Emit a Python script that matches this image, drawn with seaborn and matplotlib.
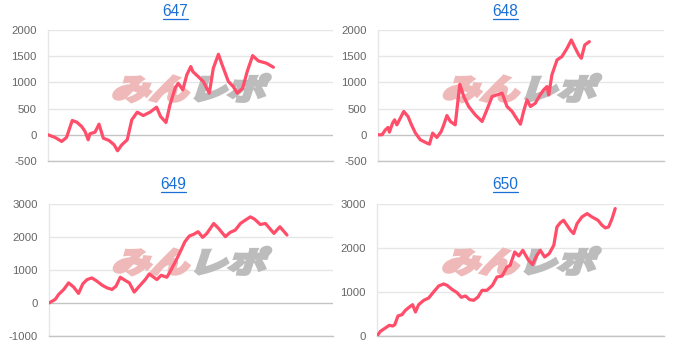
import matplotlib
matplotlib.use("Agg")
import matplotlib.pyplot as plt
import seaborn as sns
import pandas as pd
from matplotlib.textpath import TextPath
from matplotlib.patches import PathPatch
from matplotlib.font_manager import FontProperties
from matplotlib.lines import Line2D
import matplotlib.transforms as mtransforms

# ---------------- data ----------------
titles = ["647", "648", "649", "650"]

x_647 = [0, 2.5, 4.8, 6.5, 8.5, 10.1, 11.8, 13.0, 14.1, 14.7, 16.5, 17.9, 19.4, 21.4, 23.2,
         24.4, 25.9, 27.8, 29.4, 31.3, 33.4, 35.8, 38.1, 39.5, 41.4, 42.8, 44.6, 45.7, 47.3,
         48.7, 50.1, 50.8, 52.7, 54.5, 56.6, 58.0, 59.8, 60.9, 63.3, 65.0, 66.4, 68.3, 69.9,
         71.8, 73.8, 76.7, 79.1]
y_647 = [0, -51, -127, -51, 273, 241, 159, 64, -95, 19, 51, 203, -64, -108, -191,
         -305, -191, -95, 286, 432, 368, 432, 527, 349, 235, 572, 889, 984, 857,
         1143, 1302, 1207, 1111, 1016, 794, 1270, 1537, 1365, 1016, 921, 794, 889, 1207,
         1511, 1410, 1365, 1289]

x_648 = [0, 1.4, 2.6, 3.5, 4.0, 5.1, 5.8, 6.6, 7.5, 9.0, 10.5, 11.7, 13.1, 14.8, 17.1,
         18.0, 19.1, 20.6, 22.1, 23.0, 24.1, 25.3, 27.0, 28.6, 30.0, 31.7, 34.0, 36.4, 38.1,
         39.9, 41.6, 43.4, 45.1, 46.9, 48.0, 49.8, 50.9, 52.1, 53.3, 55.0, 56.7, 57.9, 59.1,
         59.7, 60.8, 62.6, 64.3, 66.1, 67.6, 69.0, 70.2, 71.1, 72.3, 73.9]
y_648 = [0, 0, 95, 140, 51, 222, 286, 190, 286, 445, 349, 190, 32, -95, -159,
         -178, 32, -51, 64, 190, 368, 254, 190, 965, 730, 540, 381, 254, 480,
         730, 762, 794, 540, 445, 349, 203, 445, 667, 540, 603, 762, 857, 921,
         760, 1143, 1429, 1492, 1651, 1810, 1651, 1524, 1460, 1715, 1778]

x_649 = [0, 2.2, 3.4, 5.2, 6.9, 8.7, 10.4, 11.9, 13.4, 15.1, 16.9, 18.7, 20.4, 22.2, 23.6,
         25.1, 26.9, 28.3, 30.0, 31.8, 33.9, 35.3, 37.2, 38.0, 39.5, 41.5, 42.7, 44.5, 46.2,
         47.8, 49.4, 50.9, 52.5, 54.1, 55.6, 58.0, 59.7, 62.1, 63.8, 65.6, 67.4, 69.1, 70.9,
         72.4, 74.4, 76.2, 79.2, 81.3, 83.8]
y_649 = [0, 110, 260, 410, 610, 480, 290, 580, 710, 760, 660, 540, 460, 410, 510,
         780, 680, 610, 330, 510, 710, 880, 760, 710, 840, 780, 960, 1250, 1550,
         1850, 2030, 2080, 2160, 1990, 2110, 2410, 2260, 2010, 2140, 2210, 2410, 2510, 2610,
         2540, 2380, 2410, 2110, 2310, 2060]

x_650 = [0, 1.2, 2.9, 4.3, 5.5, 6.2, 7.3, 8.7, 9.9, 11.3, 12.4, 13.4, 14.5, 16.3, 18.0,
         19.7, 21.5, 23.2, 24.4, 26.1, 27.9, 29.4, 30.8, 32.3, 33.7, 35.2, 36.6, 38.3, 40.2,
         41.8, 43.6, 45.3, 46.4, 48.0, 49.4, 50.8, 52.8, 54.2, 55.7, 56.9, 58.4, 60.0, 61.6,
         62.7, 63.9, 65.0, 66.2, 67.4, 68.5, 69.7, 71.4, 73.2, 74.9, 77.0, 78.4, 79.6, 80.7,
         81.9, 83.0]
y_650 = [0, 106, 182, 243, 227, 258, 455, 485, 584, 659, 712, 546, 712, 811, 864,
         1000, 1137, 1183, 1152, 1061, 985, 879, 910, 826, 811, 887, 1038, 1038, 1150,
         1340, 1364, 1569, 1607, 1910, 1819, 1948, 1721, 1622, 1834, 1948, 1796, 1872, 2062,
         2479, 2577, 2630, 2517, 2403, 2327, 2554, 2706, 2782, 2706, 2630, 2517, 2456, 2479,
         2668, 2896]

yticks_top = [-500, 0, 500, 1000, 1500, 2000]
yticks_649 = [-1000, 0, 1000, 2000, 3000]
yticks_650 = [0, 1000, 2000, 3000]

# ---------------- style ----------------
sns.set_theme(style="white")
plt.rcParams["font.family"] = ["Liberation Sans", "DejaVu Sans"]

W, H = 673, 345
fig = plt.figure(figsize=(W / 100, H / 100), dpi=100)
fig.patch.set_facecolor("white")

LINE = "#ff4d6a"
GRID = "#e6e6e6"
ZERO = "#c4c4c4"
TICKTXT = "#666666"
LINK = "#1a6fd6"

def fr(px_l, px_top, px_r, px_bot):
    return [px_l / W, 1 - px_bot / H, (px_r - px_l) / W, (px_bot - px_top) / H]

panels = [
    dict(title=titles[0], x=x_647, y=y_647, ticks=yticks_top, rect=fr(48, 30, 333, 161), tx=175.5, ty=11.5),
    dict(title=titles[1], x=x_648, y=y_648, ticks=yticks_top, rect=fr(378, 30, 664, 161), tx=505.5, ty=11.5),
    dict(title=titles[2], x=x_649, y=y_649, ticks=yticks_649, rect=fr(49, 204, 333, 336), tx=173.5, ty=184.5),
    dict(title=titles[3], x=x_650, y=y_650, ticks=yticks_650, rect=fr(377, 204, 664, 336), tx=505.5, ty=184.5),
]

fp = FontProperties(family="Noto Sans CJK JP", weight="bold")
p_pink = TextPath((0, 0), "みん", size=1, prop=fp)
p_gray = TextPath((0, 0), "レポ", size=1, prop=fp)
skew = mtransforms.Affine2D().skew_deg(14, 0)
p_pink_s = skew.transform_path(p_pink)
off = p_pink.get_extents().x1 + 0.05
p_gray_s = (mtransforms.Affine2D().translate(off, 0) + skew).transform_path(p_gray)
e1, e2 = p_pink_s.get_extents(), p_gray_s.get_extents()
bx0, bx1 = min(e1.x0, e2.x0), max(e1.x1, e2.x1)
by0, by1 = min(e1.y0, e2.y0), max(e1.y1, e2.y1)

title_texts = []
for p in panels:
    ax = fig.add_axes(p["rect"])
    df = pd.DataFrame({"g": p["x"], "v": p["y"]})
    sns.lineplot(data=df, x="g", y="v", ax=ax, color=LINE, linewidth=2.3, zorder=3, sort=False)
    ax.set_xlim(0, 100)
    ax.set_ylim(p["ticks"][0], p["ticks"][-1])
    ax.set_yticks(p["ticks"])
    ax.set_yticklabels([str(t) for t in p["ticks"]])
    ax.set_xticks([])
    ax.set_xlabel("")
    ax.set_ylabel("")
    ax.set_facecolor("white")
    for t in p["ticks"]:
        ax.axhline(t, color=(ZERO if t == 0 else GRID), linewidth=1.0, zorder=0.5)
    for s in ["top", "right"]:
        ax.spines[s].set_visible(False)
    ax.spines["left"].set_color(GRID)
    ax.spines["left"].set_linewidth(1.0)
    ax.spines["bottom"].set_color(ZERO)
    ax.spines["bottom"].set_linewidth(1.0)
    ax.tick_params(axis="y", length=6.5, width=1.0, color=GRID, pad=1.5,
                   labelsize=8.2, labelcolor=TICKTXT)

    # watermark
    l, b, w, h = p["rect"]
    cxp = (l + w / 2) * W + 1.5
    cyp = 88 if p["rect"][1] > 0.5 else 261
    tw, th = 156, 27
    tr = (mtransforms.Affine2D()
          .translate(-(bx0 + bx1) / 2, -(by0 + by1) / 2)
          .scale(tw / (bx1 - bx0) / W, th / (by1 - by0) / H)
          .translate(cxp / W, 1 - cyp / H)) + fig.transFigure
    ax.add_artist(PathPatch(p_pink_s, transform=tr, facecolor="#efb9b9", edgecolor="#efb9b9",
                            linewidth=2.6, joinstyle="miter", zorder=1.5, clip_on=False))
    ax.add_artist(PathPatch(p_gray_s, transform=tr, facecolor="#bcbcbc", edgecolor="#bcbcbc",
                            linewidth=2.6, joinstyle="miter", zorder=1.5, clip_on=False))

    t = fig.text(p["tx"] / W, 1 - p["ty"] / H, p["title"], ha="center", va="center",
                 fontsize=11.2, color=LINK)
    title_texts.append(t)

fig.canvas.draw()
renderer = fig.canvas.get_renderer()
for t in title_texts:
    bb = t.get_window_extent(renderer)
    yline = bb.y0 + 0.5
    fig.add_artist(Line2D([bb.x0 / W, bb.x1 / W], [yline / H, yline / H],
                          transform=fig.transFigure, color=LINK, linewidth=0.9))

fig.savefig("out.png", dpi=100, facecolor="white")
